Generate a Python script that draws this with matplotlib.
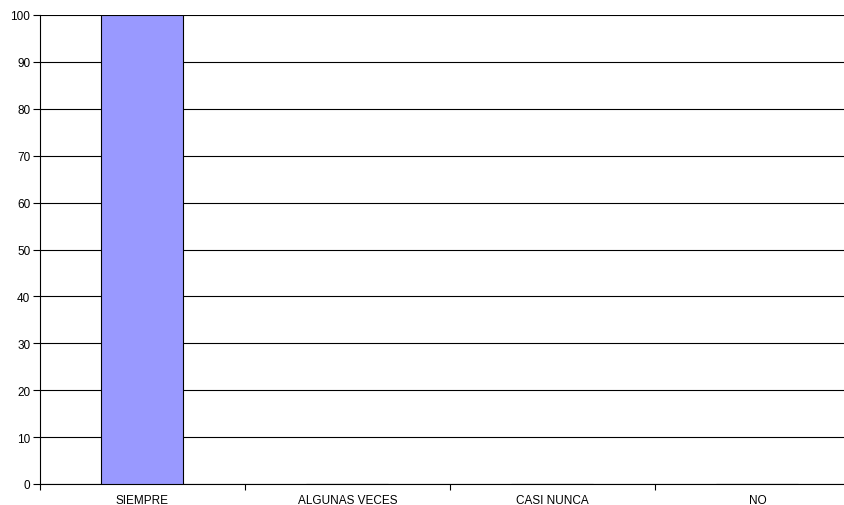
import matplotlib
matplotlib.use("Agg")
import matplotlib.pyplot as plt
from matplotlib.ticker import FixedLocator

categories = ["SIEMPRE", "ALGUNAS VECES", "CASI NUNCA", "NO"]
values = [100, 0, 0, 0]
yticks = [0, 10, 20, 30, 40, 50, 60, 70, 80, 90, 100]

plt.rcParams['font.family'] = ['Liberation Sans', 'DejaVu Sans']

fig = plt.figure(figsize=(8.45, 5.06), dpi=100)
ax = fig.add_axes([40/845, 21/506, 820/845, 469/506])

x = list(range(len(categories)))
ax.bar(x, values, width=0.4, color="#9999FF", edgecolor="black", linewidth=0.8, zorder=3)

ax.set_xlim(-0.5, len(categories) - 0.5)
ax.set_ylim(0, 100)
ax.set_yticks(yticks)
ax.tick_params(axis='y', labelsize=8.5, length=5, width=0.8, pad=2)
ax.yaxis.grid(True, color="black", linewidth=0.8, zorder=0)
ax.set_axisbelow(True)

ax.set_xticks(x)
ax.set_xticklabels(categories)
ax.tick_params(axis='x', which='major', length=0, labelsize=8.5, pad=7.5)
ax.xaxis.set_minor_locator(FixedLocator([i - 0.5 for i in range(len(categories) + 1)]))
ax.tick_params(axis='x', which='minor', length=4, width=0.8, direction='out')

for s in ["top", "right"]:
    ax.spines[s].set_visible(False)
ax.spines["left"].set_linewidth(0.8)
ax.spines["bottom"].set_linewidth(0.8)

fig.savefig("out.png", dpi=100)
